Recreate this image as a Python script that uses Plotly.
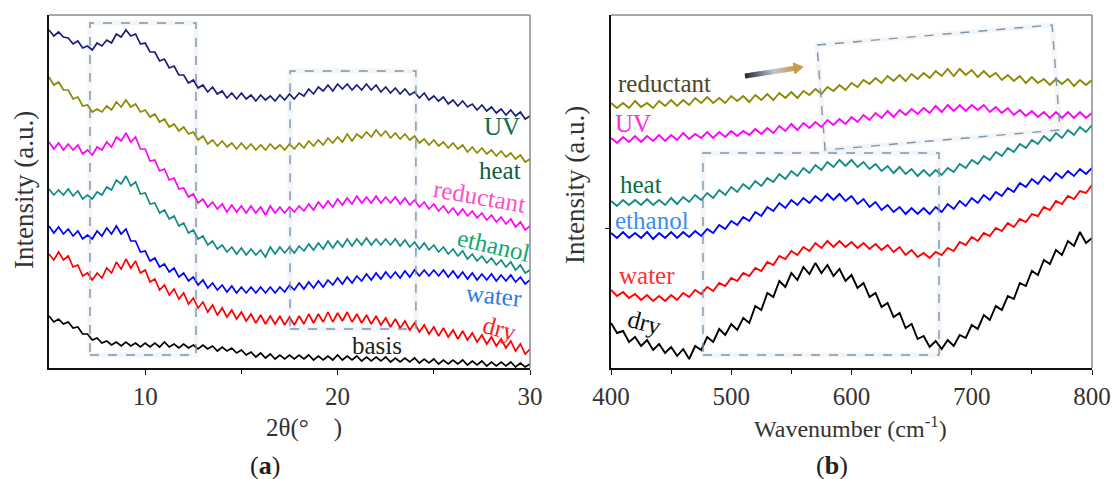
import numpy as np
import plotly.graph_objects as go

# ---------------- data: panel (a), XRD patterns (2theta in degrees) ----------------
two_theta = np.arange(5.0, 30.001, 0.25)

xrd_uv = [338,332,336,331,330,324,327,320,322,318, 325,322,328,325,334,331,338,332,334,324,
          325,316,316,307,309,300,302,293,293,285, 288,280,283,276,281,274,277,270,275,269,
          275,269,273,267,273,268,272,267,273,268, 274,269,275,272,279,274,281,277,283,277,
          284,279,284,278,283,278,284,278,283,276, 281,275,280,274,279,273,276,270,275,268,
          272,267,271,264,268,262,267,261,264,258, 263,257,261,255,259,253,258,252,256,249,
          252]
xrd_heat = [291,283,286,278,278,269,271,262,263,256, 259,256,262,258,266,261,268,261,264,256,
            258,251,254,246,249,241,244,237,241,234, 236,228,232,224,228,222,227,221,225,219,
            225,219,224,218,223,218,224,219,223,218, 224,219,225,220,227,222,228,223,230,225,
            231,226,234,227,234,230,236,231,238,232, 237,230,235,229,234,228,232,225,229,223,
            228,222,226,220,225,219,223,216,221,215, 220,214,218,212,217,211,215,209,213,206,
            209]
xrd_reductant = [226,219,225,218,224,218,223,214,218,213, 221,218,226,221,231,227,235,226,231,219,
                 219,207,208,197,199,188,190,179,180,171, 174,165,169,161,166,159,164,156,163,156,
                 162,155,162,155,161,153,162,155,161,155, 161,156,162,157,164,158,166,160,167,161,
                 169,163,170,164,172,165,171,165,172,165, 171,165,171,164,170,163,168,161,166,159,
                 164,157,162,155,160,153,159,152,157,150, 155,148,153,146,151,144,149,141,146,138,
                 142]
xrd_ethanol = [179,173,178,173,179,172,177,169,173,169, 176,173,181,178,188,184,192,182,186,174,
               175,164,165,155,158,149,152,142,145,135, 138,129,132,123,127,119,123,116,121,114,
               120,113,119,113,118,111,121,114,121,115, 121,115,122,117,124,118,125,119,127,120,
               127,121,129,122,129,123,130,123,129,123, 129,123,129,122,128,121,126,119,125,118,
               123,116,121,114,119,112,117,109,114,107, 112,105,110,103,108,101,106,98,103,95,
               98]
xrd_water = [142,135,141,134,139,132,137,129,133,129, 137,132,140,134,142,134,139,127,127,116,
             117,107,110,101,104,96,100,91,95,87, 91,83,88,80,85,78,83,76,82,75,
             81,75,81,75,81,75,81,75,81,76, 83,78,85,79,86,80,87,81,88,83,
             90,84,91,85,92,87,94,88,95,89, 96,90,96,90,97,91,98,92,98,92,
             98,92,98,91,97,90,96,89,95,88, 94,88,94,87,93,87,93,86,91,84,
             88]
xrd_dry = [114,108,116,108,112,101,103,92,95,88, 95,90,100,95,106,99,109,100,107,95,
           98,86,89,78,83,73,79,69,75,64, 70,60,66,56,63,53,60,51,58,49,
           56,47,54,45,53,44,52,44,52,43, 51,43,52,44,54,45,54,46,56,46,
           55,47,56,46,54,45,53,44,52,43, 50,41,49,40,47,38,45,36,43,34,
           41,32,40,31,38,29,37,28,35,26, 33,24,31,22,29,20,27,17,24,14,
           19]
xrd_basis = [52,46,49,44,46,40,41,34,34,28, 30,25,27,23,26,22,26,22,25,21,
             25,21,25,21,26,21,24,20,24,20, 23,19,23,19,22,17,21,17,20,15,
             18,13,16,11,15,10,14,9,13,9, 13,9,13,9,13,8,12,8,12,8,
             13,8,12,8,12,7,11,7,11,7, 11,6,10,6,10,6,10,5,9,5,
             9,4,8,4,8,4,8,3,7,3, 7,2,6,2,6,2,6,1,5,1,
             4]

# ---------------- data: panel (b), spectra (wavenumber in cm-1) ----------------
wavenumber = np.arange(400, 801, 5)

sp_reductant = [265,260,265,260,267,261,265,260,267,262, 268,262,268,263,270,265,271,265,270,265,
                272,267,272,266,273,268,274,268,275,270, 276,270,277,273,279,274,281,277,283,278,
                285,281,288,284,290,285,292,287,293,287, 294,289,295,290,297,292,299,292,299,293,
                298,291,297,291,295,288,293,287,292,285, 291,285,289,283,289,284,289,282,288,283,
                288]
sp_uv = [230,225,231,226,232,226,232,227,233,227, 233,228,235,229,234,230,236,230,236,231,
         237,232,237,233,239,234,240,235,242,237, 244,238,245,240,246,241,248,243,249,244,
         251,246,253,248,255,250,257,251,258,253, 259,254,260,255,262,256,263,257,263,257,
         263,258,263,256,261,255,260,253,258,252, 257,251,256,250,256,250,256,250,256,250,
         255]
sp_heat = [167,162,168,163,168,163,169,163,168,163, 170,164,171,166,173,168,175,170,178,173,
           181,176,184,179,187,182,190,186,194,189, 197,192,200,195,203,198,206,201,208,202,
           208,201,206,199,204,197,202,195,201,194, 199,192,198,192,198,193,200,196,204,200,
           208,204,212,208,216,212,220,216,224,220, 228,224,232,227,235,230,238,233,241,236,
           243]
sp_ethanol = [135,130,136,130,135,130,136,129,135,130, 136,130,136,131,137,132,139,135,143,139,
              147,143,151,147,156,152,161,157,165,160, 168,163,170,165,172,167,174,168,174,167,
              172,164,169,161,166,158,163,156,161,154, 160,154,160,154,161,156,164,159,167,162,
              170,165,173,168,176,172,180,176,185,181, 189,184,192,187,195,190,197,192,199,194,
              200]
sp_water = [78,72,76,70,74,68,73,67,72,67, 73,68,75,71,78,74,81,77,85,82,
            90,87,95,92,100,97,106,103,112,109, 117,113,121,117,125,120,127,121,127,121,
            126,120,125,119,124,118,123,116,121,113, 118,111,115,110,116,113,120,117,126,123,
            131,127,135,132,140,137,145,141,149,146, 154,152,161,158,167,164,172,169,177,175,
            183]
sp_dry = [45,35,37,26,31,22,28,18,24,15, 21,12,19,9,22,18,31,26,39,33,
          44,38,50,45,62,58,75,71,87,81, 95,88,101,94,105,95,103,92,99,87,
          93,80,85,71,75,61,65,51,55,40, 44,29,32,21,27,19,28,22,33,30,
          43,39,53,48,62,58,72,69,85,82, 97,93,108,104,118,113,127,122,136,125,
          130]

xticks_a = [10, 20, 30]
xticks_b = [400, 500, 600, 700, 800]

FONT = "Liberation Serif, Times New Roman, serif"
W, H = 1113, 479

fig = go.Figure()

series_a = [
    ("UV", xrd_uv, "#1c1c7c"),
    ("heat", xrd_heat, "#8a8a00"),
    ("reductant", xrd_reductant, "#ff00ff"),
    ("ethanol", xrd_ethanol, "#0f8a86"),
    ("water", xrd_water, "#0000ff"),
    ("dry", xrd_dry, "#ff0000"),
    ("basis", xrd_basis, "#000000"),
]
for name, vals, col in series_a:
    fig.add_trace(go.Scatter(x=two_theta, y=vals, mode="lines", name=name,
                             line=dict(color=col, width=1.7), xaxis="x", yaxis="y",
                             showlegend=False, hoverinfo="skip"))

series_b = [
    ("reductant", sp_reductant, "#8a8a00"),
    ("UV", sp_uv, "#ff00ff"),
    ("heat", sp_heat, "#0f8a86"),
    ("ethanol", sp_ethanol, "#0000ff"),
    ("water", sp_water, "#ff0000"),
    ("dry", sp_dry, "#000000"),
]
for name, vals, col in series_b:
    fig.add_trace(go.Scatter(x=wavenumber, y=vals, mode="lines", name=name,
                             line=dict(color=col, width=1.9), xaxis="x2", yaxis="y2",
                             showlegend=False, hoverinfo="skip"))

ydom = [(H - 368) / H, (H - 15) / H]
tickfont = dict(family=FONT, size=25, color="#333333")

fig.update_layout(
    width=W, height=H, autosize=False, showlegend=False,
    margin=dict(l=0, r=0, t=0, b=0, pad=0, autoexpand=False),
    paper_bgcolor="white", plot_bgcolor="white",
    font=dict(family=FONT, color="#333333"),
    xaxis=dict(domain=[49 / W, 530 / W], range=[5, 30], automargin=False, showgrid=False,
               zeroline=False, showline=True, linecolor="#111111", linewidth=1.5,
               tickmode="array", tickvals=xticks_a, ticktext=[str(t) for t in xticks_a],
               ticks="outside", ticklen=5, tickcolor="#111111", tickfont=tickfont,
               minor=dict(tickmode="array", tickvals=[15, 25], ticks="outside", ticklen=4,
                          tickcolor="#111111")),
    yaxis=dict(domain=ydom, range=[0, 353], automargin=False, showgrid=False, zeroline=False,
               showline=True, linecolor="#111111", linewidth=1.5, showticklabels=False,
               ticks=""),
    xaxis2=dict(domain=[611 / W, 1092 / W], range=[400, 800], anchor="y2", automargin=False,
                showgrid=False, zeroline=False, showline=True, linecolor="#111111",
                linewidth=1.5, tickmode="array", tickvals=xticks_b,
                ticktext=[str(t) for t in xticks_b], ticks="outside", ticklen=5,
                tickcolor="#111111", tickfont=tickfont,
                minor=dict(tickmode="array", tickvals=[450, 550, 650, 750], ticks="outside",
                           ticklen=4, tickcolor="#111111")),
    yaxis2=dict(domain=ydom, range=[0, 353], anchor="x2", automargin=False, showgrid=False,
                zeroline=False, showline=True, linecolor="#111111", linewidth=1.5,
                showticklabels=False, tickmode="array", tickvals=[140], ticks="outside",
                ticklen=4, tickcolor="#111111"),
)

shapes = []
# grey top/right frame lines of each panel
for xa, ya in (("x", "y"), ("x2", "y2")):
    shapes.append(dict(type="line", xref=f"{xa} domain", yref=f"{ya} domain",
                       x0=0, x1=1, y0=1, y1=1, line=dict(color="#8a8a8a", width=1.5)))
    shapes.append(dict(type="line", xref=f"{xa} domain", yref=f"{ya} domain",
                       x0=1, x1=1, y0=0, y1=1, line=dict(color="#8a8a8a", width=1.5)))

BOX = "#7b95ae"
GLOW = "rgba(200,208,218,0.22)"


def dashed_rect(xref, yref, x0, x1, y0, y1):
    shapes.append(dict(type="rect", xref=xref, yref=yref, x0=x0, x1=x1, y0=y0, y1=y1,
                       line=dict(color=GLOW, width=5), layer="below"))
    shapes.append(dict(type="rect", xref=xref, yref=yref, x0=x0, x1=x1, y0=y0, y1=y1,
                       line=dict(color=BOX, width=1.4, dash="dash")))


# highlighted regions in panel (a)
dashed_rect("x", "y", 7.13, 12.64, 13, 345)
dashed_rect("x", "y", 17.53, 24.07, 39, 297)
# highlighted regions in panel (b)
dashed_rect("x2", "y2", 476.5, 672.8, 13, 215)
quad = "M 571.3 323 L 766.8 343 L 773.4 238 L 578.0 218 Z"
shapes.append(dict(type="path", xref="x2", yref="y2", path=quad,
                   line=dict(color=GLOW, width=5), layer="below"))
shapes.append(dict(type="path", xref="x2", yref="y2", path=quad,
                   line=dict(color=BOX, width=1.4, dash="dash")))


# gradient arrow above the spectra (pixel positions converted to paper units)
def px(xp, yp):
    return xp / W, 1 - yp / H


sx, sy, ex, ey = 745.0, 76.0, 803.0, 67.0
L = np.hypot(ex - sx, ey - sy)
dx, dy = (ex - sx) / L, (ey - sy) / L
hx, hy = ex - 9 * dx, ey - 9 * dy
c_dark, c_mid, c_gold = np.array([28, 34, 50]), np.array([190, 200, 214]), np.array([200, 155, 70])
nseg = 24
for i in range(nseg):
    t0, t1 = i / nseg, (i + 1) / nseg
    tm = (t0 + t1) / 2
    if tm < 0.6:
        c = c_dark + (c_mid - c_dark) * (tm / 0.6)
    else:
        c = c_mid + (c_gold - c_mid) * ((tm - 0.6) / 0.4)
    x0, y0 = px(sx + (hx - sx) * t0, sy + (hy - sy) * t0)
    x1, y1 = px(sx + (hx - sx) * t1 + 0.5, sy + (hy - sy) * t1)
    shapes.append(dict(type="line", xref="paper", yref="paper", x0=x0, y0=y0, x1=x1, y1=y1,
                       line=dict(color="rgb(%d,%d,%d)" % tuple(c.astype(int)), width=5)))
nx, ny = -dy, dx
p_tip = px(ex, ey)
p_b1 = px(hx + 5.5 * nx, hy + 5.5 * ny)
p_b2 = px(hx - 5.5 * nx, hy - 5.5 * ny)
shapes.append(dict(type="path", xref="paper", yref="paper",
                   path="M %f %f L %f %f L %f %f Z" % (p_tip[0], p_tip[1], p_b1[0], p_b1[1],
                                                        p_b2[0], p_b2[1]),
                   fillcolor="rgb(200,155,70)", line=dict(color="rgb(200,155,70)", width=1)))

fig.update_layout(shapes=shapes)

ann = []


def label(text, x, y, color, xref="x", yref="y", angle=0, size=25):
    ann.append(dict(text=text, x=x, y=y, xref=xref, yref=yref, showarrow=False,
                    textangle=angle, xanchor="center", yanchor="middle",
                    font=dict(family=FONT, size=size, color=color)))


# curve labels, panel (a)
label("UV", 28.54, 241, "#0e6b4c")
label("heat", 28.44, 198, "#0d5e40")
label("reductant", 27.40, 172, "#ff4fc8", angle=10)
label("ethanol", 28.13, 123, "#12a872", angle=13)
label("water", 28.13, 73, "#2a7de1", angle=6)
label("dry", 28.44, 40, "#ff2020", angle=15)
label("basis", 22.05, 23, "#222222")
# curve labels, panel (b)
label("reductant", 444.1, 284, "#4f4622", "x2", "y2")
label("UV", 418.3, 244, "#ff2ad4", "x2", "y2")
label("heat", 424.9, 184, "#0e6b40", "x2", "y2")
label("ethanol", 434.1, 148, "#3a8ee8", "x2", "y2")
label("water", 429.9, 93, "#ff3030", "x2", "y2")
label("dry", 428.3, 46, "#111111", "x2", "y2", angle=15)

# axis titles and panel tags
x, y = px(24, 190)
label("Intensity (a.u.)", x, y, "#333333", "paper", "paper", angle=-90, size=27)
x, y = px(575, 185)
label("Intensity (a.u.)", x, y, "#333333", "paper", "paper", angle=-90, size=27)
x, y = px(304, 428)
label("2θ(°    )", x, y, "#333333", "paper", "paper", size=25)
x, y = px(850, 427)
label("Wavenumber (cm<sup>-1</sup>)", x, y, "#333333", "paper", "paper", size=24)
x, y = px(265, 465)
label("(<b>a</b>)", x, y, "#222222", "paper", "paper", size=26)
x, y = px(832, 465)
label("(<b>b</b>)", x, y, "#222222", "paper", "paper", size=26)

fig.update_layout(annotations=ann)

fig.write_html("out.html")
